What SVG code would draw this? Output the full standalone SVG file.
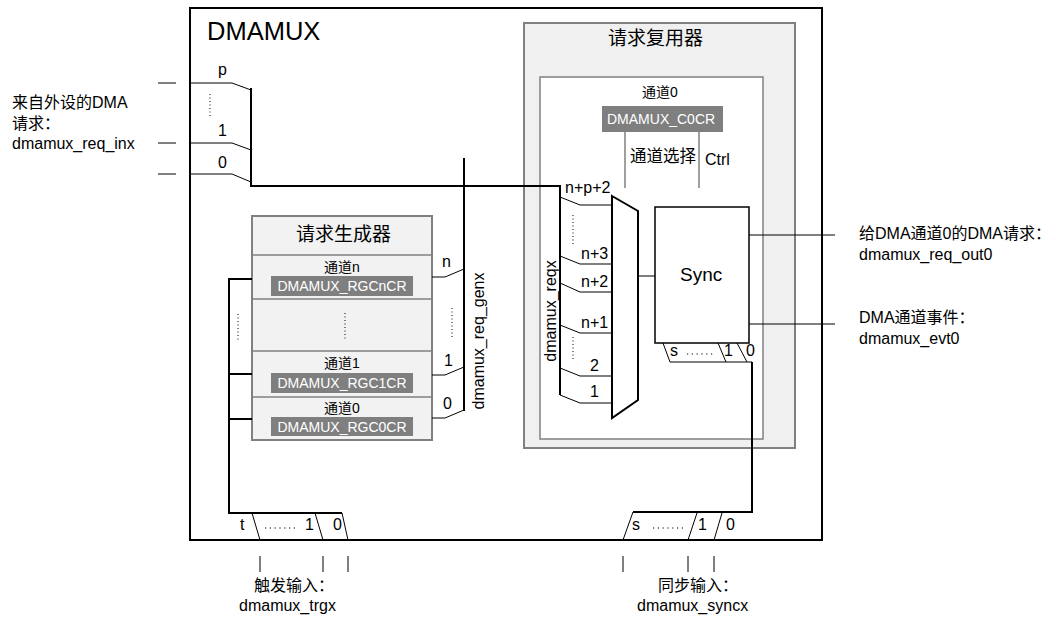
<svg xmlns="http://www.w3.org/2000/svg" width="1056" height="620" viewBox="0 0 1056 620">
<style>
text{font-family:"Liberation Sans","Noto Sans CJK SC",sans-serif;fill:#000}
.t16{font-size:16px}
.t14{font-size:14px}
.reg{fill:#7f7f7f}
.regt{fill:#fff;font-size:14px}
.thin{stroke:#000;stroke-width:1;fill:none}
.thick{stroke:#000;stroke-width:2;fill:none}
.gray{stroke:#808080;stroke-width:1.5;fill:none}
.dot{stroke:#000;stroke-width:1;stroke-dasharray:1 2.5;fill:none}
.hdot{stroke:#000;stroke-width:1.2;stroke-dasharray:1.2 3.6;fill:none}
</style>
<rect width="1056" height="620" fill="#fff"/>
<g id="dmamux">
<rect x="190" y="8" width="632" height="532" fill="#fff" stroke="#000" stroke-width="2"/>
<text x="207" y="40" font-size="25.5">DMAMUX</text>
</g>
<g id="req_mux">
<rect x="524" y="23" width="271" height="425" fill="#f0f0f0" stroke="#808080" stroke-width="2"/>
<text x="608" y="45" font-size="19">请求复用器</text>
<rect x="540" y="77" width="223" height="362" fill="#fff" stroke="#808080" stroke-width="1.5"/>
<text x="642" y="97" class="t14">通道0</text>
<rect x="602" y="106" width="121" height="26" class="reg"/>
<text x="607" y="124" class="regt" font-size="15">DMAMUX_C0CR</text>
<line x1="625" y1="132" x2="625" y2="188" class="gray"/>
<line x1="699" y1="132" x2="699" y2="188" class="gray"/>
<text x="630" y="162" font-size="16.5">通道选择</text>
<text x="705" y="165" class="t16">Ctrl</text>
</g>
<g id="mux">
<polygon points="612,196 638,211 638,400 612,418" fill="#fff" stroke="#000" stroke-width="2"/>
</g>
<g id="sync">
<rect x="655" y="207" width="94" height="136" fill="#fff" stroke="#000" stroke-width="1.5"/>
<text x="680" y="281" font-size="19">Sync</text>
<text x="670" y="356" class="t16">s</text>
<line x1="687" y1="354" x2="714" y2="354" class="hdot"/>
<text x="724" y="356" class="t16">1</text>
<text x="746" y="356" class="t16">0</text>
</g>
<g id="req_gen">
<rect x="252" y="216" width="180" height="224" fill="#f2f2f2" stroke="#808080" stroke-width="2"/>
<line x1="252" y1="255" x2="432" y2="255" class="gray"/>
<line x1="252" y1="299" x2="432" y2="299" class="gray"/>
<line x1="252" y1="351" x2="432" y2="351" class="gray"/>
<line x1="252" y1="397" x2="432" y2="397" class="gray"/>
<text x="296" y="241" font-size="19">请求生成器</text>
<text x="342" y="272" class="t14" text-anchor="middle">通道n</text>
<rect x="271" y="276" width="142" height="20" class="reg"/>
<text x="342" y="291" class="regt" text-anchor="middle">DMAMUX_RGCnCR</text>
<line x1="345" y1="313" x2="345" y2="340" class="dot"/>
<text x="342" y="368" class="t14" text-anchor="middle">通道1</text>
<rect x="271" y="373" width="142" height="20" class="reg"/>
<text x="342" y="388" class="regt" text-anchor="middle">DMAMUX_RGC1CR</text>
<text x="342" y="413" class="t14" text-anchor="middle">通道0</text>
<rect x="271" y="417" width="142" height="19" class="reg"/>
<text x="342" y="432" class="regt" text-anchor="middle">DMAMUX_RGC0CR</text>
</g>
<g id="connectors">
<line x1="158" y1="83" x2="176" y2="83" class="thin"/>
<line x1="158" y1="143" x2="176" y2="143" class="thin"/>
<line x1="158" y1="174" x2="176" y2="174" class="thin"/>
<polyline points="190,83 232,83 251,90" class="thin"/>
<polyline points="190,143 232,143 251,150" class="thin"/>
<polyline points="190,174 232,174 251,182" class="thin"/>
<line x1="210" y1="94" x2="210" y2="116" class="dot"/>
<polyline points="251,88 251,186 560,186 560,395" class="thick"/>
<polyline points="560,197 580,205 612,205" class="thin"/>
<polyline points="560,256 580,264 612,264" class="thin"/>
<polyline points="560,283 580,292 612,292" class="thin"/>
<polyline points="560,325 580,333 612,333" class="thin"/>
<polyline points="560,368 580,376 612,376" class="thin"/>
<polyline points="560,395 580,403 612,403" class="thin"/>
<line x1="573" y1="215" x2="573" y2="245" class="dot"/>
<line x1="573" y1="337" x2="573" y2="361" class="dot"/>
<line x1="638" y1="276" x2="655" y2="276" class="thin"/>
<line x1="749" y1="235" x2="835" y2="235" class="thin"/>
<line x1="749" y1="324" x2="835" y2="324" class="thin"/>
<polyline points="663,343 670,362 752,362" class="thin"/>
<line x1="718" y1="343" x2="726" y2="362" class="thin"/>
<line x1="737" y1="343" x2="747" y2="362" class="thin"/>
<polyline points="752,362 752,512 633,512" class="thick"/>
<line x1="633" y1="512" x2="623" y2="540" class="thin"/>
<line x1="697" y1="513" x2="688" y2="540" class="thin"/>
<line x1="722" y1="513" x2="714" y2="540" class="thin"/>
<line x1="623" y1="556" x2="623" y2="572" class="thin"/>
<line x1="688" y1="556" x2="688" y2="572" class="thin"/>
<line x1="714" y1="556" x2="714" y2="572" class="thin"/>
<polyline points="432,277 445,277 464,269" class="thin"/>
<polyline points="432,375 445,375 464,367" class="thin"/>
<polyline points="432,418 445,418 464,410" class="thin"/>
<line x1="452" y1="308" x2="452" y2="338" class="dot"/>
<line x1="464" y1="158" x2="464" y2="411" class="thick"/>
<polyline points="252,279 229,279 229,513 342,513" class="thick"/>
<line x1="229" y1="374" x2="252" y2="374" class="thick"/>
<line x1="229" y1="419" x2="252" y2="419" class="thick"/>
<line x1="238" y1="314" x2="238" y2="340" class="dot"/>
<line x1="252" y1="513" x2="260" y2="540" class="thin"/>
<line x1="315" y1="513" x2="323" y2="540" class="thin"/>
<line x1="342" y1="513" x2="348" y2="540" class="thin"/>
<line x1="260" y1="556" x2="260" y2="572" class="thin"/>
<line x1="323" y1="556" x2="323" y2="572" class="thin"/>
<line x1="348" y1="556" x2="348" y2="572" class="thin"/>
</g>
<g id="labels">
<text x="12" y="108" class="t16">来自外设的DMA</text>
<text x="12" y="129" class="t16">请求：</text>
<text x="12" y="149" class="t16">dmamux_req_inx</text>
<text x="218" y="75" class="t16">p</text>
<text x="218" y="136" class="t16">1</text>
<text x="218" y="168" class="t16">0</text>
<text x="442" y="267" class="t16">n</text>
<text x="444" y="366" class="t16">1</text>
<text x="443" y="409" class="t16">0</text>
<text transform="translate(484,341) rotate(-90)" class="t16" text-anchor="middle">dmamux_req_genx</text>
<text transform="translate(556,311) rotate(-90)" class="t16" text-anchor="middle">dmamux_reqx</text>
<text x="565" y="193" class="t16">n+p+2</text>
<text x="581" y="259" class="t16">n+3</text>
<text x="581" y="287" class="t16">n+2</text>
<text x="581" y="328" class="t16">n+1</text>
<text x="590" y="371" class="t16">2</text>
<text x="590" y="397" class="t16">1</text>
<text x="240" y="530" class="t16">t</text>
<line x1="265" y1="528" x2="295" y2="528" class="hdot"/>
<text x="305" y="530" class="t16">1</text>
<text x="333" y="530" class="t16">0</text>
<text x="254" y="591" class="t16">触发输入：</text>
<text x="239" y="611" class="t16">dmamux_trgx</text>
<text x="632" y="530" class="t16">s</text>
<line x1="653" y1="528" x2="684" y2="528" class="hdot"/>
<text x="698" y="530" class="t16">1</text>
<text x="726" y="530" class="t16">0</text>
<text x="658" y="591" class="t16">同步输入：</text>
<text x="637" y="611" class="t16">dmamux_syncx</text>
<text x="859" y="239" class="t16">给DMA通道0的DMA请求：</text>
<text x="859" y="260" class="t16">dmamux_req_out0</text>
<text x="859" y="323" class="t16">DMA通道事件：</text>
<text x="859" y="344" class="t16">dmamux_evt0</text>
</g>
</svg>
